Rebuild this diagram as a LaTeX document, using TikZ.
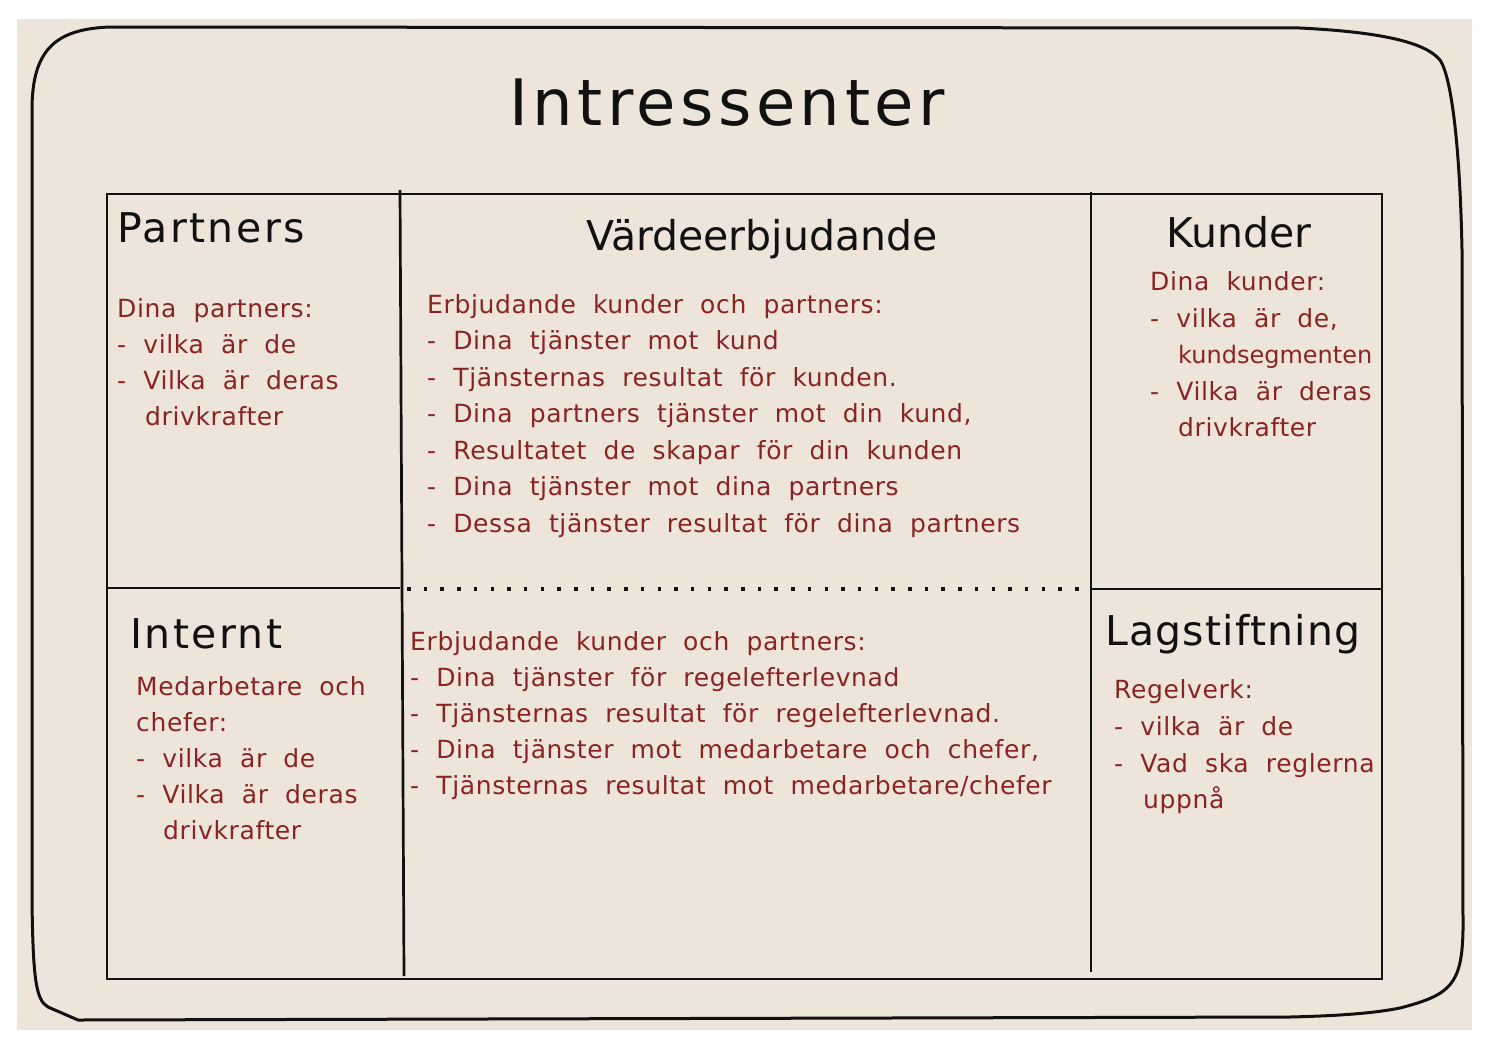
\documentclass[tikz,border=0pt]{standalone}
\usepackage{fontspec}
\setmainfont{DejaVu Sans}
\newfontfamily\bodyfont{DejaVu Sans}[WordSpace=2.0,LetterSpace=2.5]
\newfontfamily\bodytightfont{DejaVu Sans}
\newfontfamily\titlefont{DejaVu Sans}[LetterSpace=7]
\newfontfamily\headwidefont{DejaVu Sans}[LetterSpace=6]
\newfontfamily\headmedfont{DejaVu Sans}[LetterSpace=3]
\definecolor{paper}{HTML}{EDE5D9}
\definecolor{ink}{HTML}{111111}
\definecolor{redink}{HTML}{8A2424}
\begin{document}
\begin{tikzpicture}[x=1pt,y=-1pt,
  titletext/.style={anchor=base,inner sep=0,text=ink,font=\titlefont\fontsize{64}{70}\selectfont},
  headtext/.style={anchor=base west,inner sep=0,text=ink,font=\headwidefont\fontsize{41}{46}\selectfont},
  headmed/.style={anchor=base west,inner sep=0,text=ink,font=\headmedfont\fontsize{41}{46}\selectfont},
  headmid/.style={anchor=base,inner sep=0,text=ink,font=\fontsize{41}{46}\selectfont},
  bodytext/.style={anchor=base west,inner sep=0,text=redink,font=\bodyfont\fontsize{25}{30}\selectfont},
  bodytight/.style={anchor=base west,inner sep=0,text=redink,font=\bodytightfont\fontsize{24}{30}\selectfont},
  gridline/.style={draw=ink,line width=2.7pt},
  frameline/.style={draw=ink,line width=3pt,line join=round},
  dotline/.style={draw=ink,line width=3.4pt,dash pattern=on 3.5pt off 13.2pt}]
\useasboundingbox (0,0) rectangle (1490,1052);
\fill[paper] (17,19) rectangle (1472,1030);
% outer hand-drawn frame
\draw[frameline] (110,27) -- (1300,28)
  .. controls (1380,32) and (1425,42) .. (1440,60)
  .. controls (1452,78) and (1460,150) .. (1462,250)
  -- (1463,930)
  .. controls (1462,985) and (1450,995) .. (1400,1008)
  .. controls (1370,1014) and (1330,1016) .. (1290,1017)
  -- (78,1020)
  -- (48,1007)
  .. controls (36,1000) and (33,980) .. (32,900)
  -- (32,110)
  .. controls (32,50) and (55,29) .. (110,27) -- cycle;
% grid
\draw[gridline] (107,194) rectangle (1382,979);
\draw[gridline] (400,190) -- (404,976);
\draw[gridline] (1091,192) -- (1091,972);
\draw[gridline] (107,588) -- (400,588);
\draw[gridline] (1091,589) -- (1382,589);
\draw[dotline] (407,589) -- (1085,589);
% title
\node[titletext] (title) at (727,125) {Intressenter};
% Partners
\node[headtext] (hpart) at (117,242) {Partners};
\node[bodytext] (p1) at (117,317) {Dina partners:};
\node[bodytext] (p2) at (117,353) {- vilka är de};
\node[bodytext] (p3) at (117,389) {- Vilka är deras};
\node[bodytext] (p4) at (145,425) {drivkrafter};
% Värdeerbjudande
\node[headmid] (hvard) at (762,250) {Värdeerbjudande};
\node[bodytext] (v1) at (427,313) {Erbjudande kunder och partners:};
\node[bodytext] (v2) at (427,349.5) {- Dina tjänster mot kund};
\node[bodytext] (v3) at (427,386) {- Tjänsternas resultat för kunden.};
\node[bodytext] (v4) at (427,422.5) {- Dina partners tjänster mot din kund,};
\node[bodytext] (v5) at (427,459) {- Resultatet de skapar för din kunden};
\node[bodytext] (v6) at (427,495.5) {- Dina tjänster mot dina partners};
\node[bodytext] (v7) at (427,532) {- Dessa tjänster resultat för dina partners};
% Kunder
\node[headmid] (hkund) at (1239,247) {Kunder};
\node[bodytext] (k1) at (1150,290) {Dina kunder:};
\node[bodytext] (k2) at (1150,327) {- vilka är de,};
\node[bodytight] (k3) at (1178,363) {kundsegmenten};
\node[bodytext] (k4) at (1150,400) {- Vilka är deras};
\node[bodytext] (k5) at (1178,436) {drivkrafter};
% Internt
\node[headtext] (hint) at (130,648) {Internt};
\node[bodytext] (i1) at (136,695) {Medarbetare och};
\node[bodytext] (i2) at (136,731) {chefer:};
\node[bodytext] (i3) at (136,767) {- vilka är de};
\node[bodytext] (i4) at (136,803) {- Vilka är deras};
\node[bodytext] (i5) at (163,839) {drivkrafter};
% center bottom
\node[bodytext] (c1) at (410,650) {Erbjudande kunder och partners:};
\node[bodytext] (c2) at (410,686) {- Dina tjänster för regelefterlevnad};
\node[bodytext] (c3) at (410,722) {- Tjänsternas resultat för regelefterlevnad.};
\node[bodytext] (c4) at (410,758) {- Dina tjänster mot medarbetare och chefer,};
\node[bodytext] (c5) at (410,794) {- Tjänsternas resultat mot medarbetare/chefer};
% Lagstiftning
\node[headmed] (hlag) at (1105,645) {Lagstiftning};
\node[bodytext] (l1) at (1114,698) {Regelverk:};
\node[bodytext] (l2) at (1114,735) {- vilka är de};
\node[bodytext] (l3) at (1114,772) {- Vad ska reglerna};
\node[bodytext] (l4) at (1143,808) {uppnå};
\end{tikzpicture}
\end{document}
